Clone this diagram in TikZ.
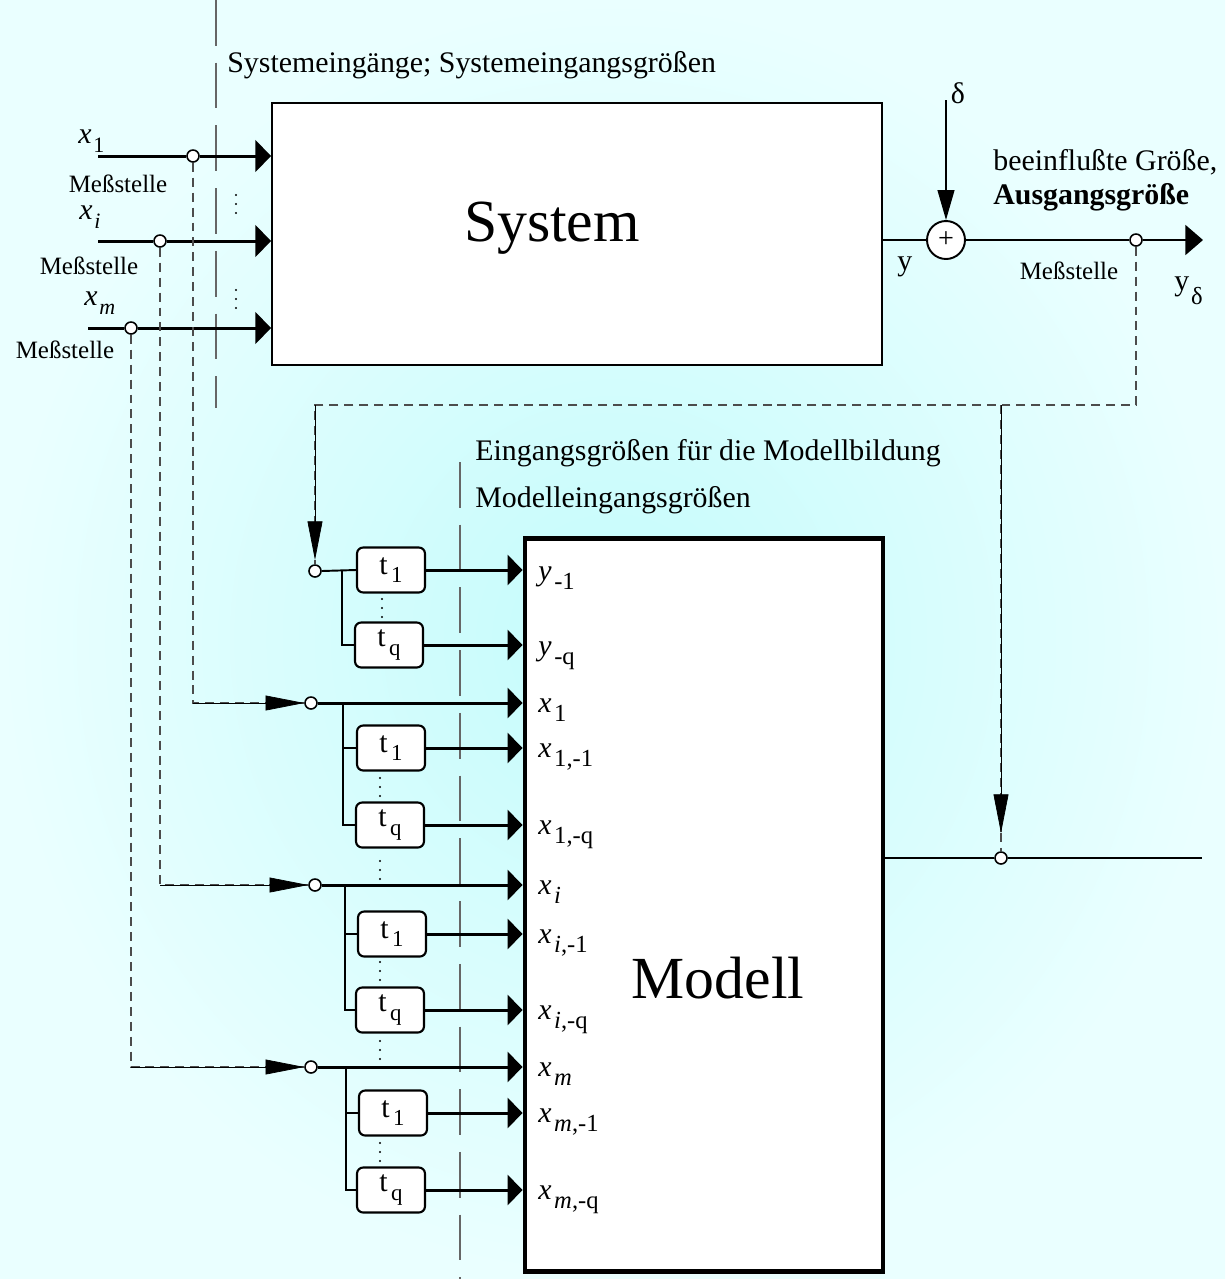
\documentclass[tikz,border=0pt]{standalone}
\usepackage{fontspec}
\setmainfont{Liberation Serif}
\usetikzlibrary{arrows.meta,shapes.geometric}
\definecolor{bgin}{RGB}{196,251,251}
\definecolor{bgout}{RGB}{234,255,255}
\newcommand\lbl[2]{#1\kern1pt\raisebox{-5.5pt}{\fontsize{12.5}{13}\selectfont #2}}
\newcommand\mlbl[2]{#1\kern1.5pt\raisebox{-5.5pt}{\fontsize{14}{14}\selectfont #2}}
\newcommand\tl[1]{t\kern2pt\raisebox{-5pt}{\fontsize{13}{13}\selectfont #1}}
\newcommand\mainfs{\fontsize{17}{20}\selectfont}
\begin{document}
\begin{tikzpicture}[x=0.02cm,y=-0.02cm,
  every node/.style={font=\mainfs, inner sep=0pt},
  meas/.style={circle, draw, fill=white, line width=0.9pt, minimum size=0.24cm, inner sep=0pt},
  sumnode/.style={circle, draw, fill=white, line width=1.1pt, minimum size=0.76cm, font=\fontsize{16}{16}\selectfont},
  sysbox/.style={draw, fill=white, line width=1.1pt},
  modbox/.style={draw, fill=white, line width=2.8pt},
  dbox/.style={draw, fill=white, rounded corners=3.5pt, minimum width=1.36cm, minimum height=0.9cm, line width=1.2pt},
  sig/.style={line width=1.7pt},
  br/.style={line width=1.1pt},
  dsh/.style={draw=black!70, line width=0.8pt, dash pattern=on 5.1pt off 3.4pt},
  dashdot/.style={draw=black!60, line width=0.7pt, dash pattern=on 26pt off 9.7pt},
  dots/.style={line width=1.3pt, line cap=round, dash pattern=on 0pt off 5.1pt},
  inarr/.style={-{Triangle[length=9pt,width=18pt]}},
  marr/.style={-{Triangle[length=8.5pt,width=17pt]}},
  darr/.style={-{Triangle[length=22pt,width=8.5pt,color=black]}},
  delarr/.style={-{Triangle[length=17pt,width=9.5pt]}},
  outarr/.style={-{Triangle[length=10pt,width=17pt]}},
  meslbl/.style={font=\fontsize{14.2}{16}\selectfont},
  big/.style={font=\fontsize{34}{36}\selectfont}
]
\useasboundingbox (0,0) rectangle (1225,1279);
\shade[inner color=bgin, outer color=bgout] (0,0) rectangle (1225,1279);

% separator lines
\coordinate (sepAt) at (216,0);
\coordinate (sepAb) at (216,408);
\draw[dashdot] (sepAt) -- (sepAb);
\coordinate (sepBt) at (460,462);
\coordinate (sepBb) at (460,1279);
\draw[dashdot] (sepBt) -- (sepBb);

\node[anchor=base west] (ttop) at (227,72) {Systemeingänge; Systemeingangsgrößen};
\node[anchor=base west] (tmod1) at (475,460) {Eingangsgrößen für die Modellbildung};
\node[anchor=base west] (tmod2) at (475,507) {Modelleingangsgrößen};

% System
\node[sysbox, minimum width=12.2cm, minimum height=5.24cm] (sys) at (577,234) {};
\node[big] (systxt) at (552,228) {System};

% inputs
\coordinate (in1) at (98,156);
\coordinate (ini) at (98,241);
\coordinate (inm) at (88,328);
\node[meas] (m1) at (193,156) {};
\node[meas] (mi) at (160,241) {};
\node[meas] (mm) at (131,328) {};
\draw[sig] (in1) -- (m1.west);
\draw[sig,inarr] (m1.east) -- (m1 -| sys.west);
\draw[sig] (ini) -- (mi.west);
\draw[sig,inarr] (mi.east) -- (mi -| sys.west);
\draw[sig] (inm) -- (mm.west);
\draw[sig,inarr] (mm.east) -- (mm -| sys.west);
\node[anchor=base west] (lx1) at (78,143) {\lbl{\textit{x}}{1}};
\node[anchor=base west] (lxi) at (79,219) {\lbl{\textit{x}}{\textit{i}}};
\node[anchor=base west] (lxm) at (84,305) {\lbl{\textit{x}}{\textit{m}}};
\node[meslbl] (ms1) at (118,184) {Meßstelle};
\node[meslbl] (ms2) at (89,266) {Meßstelle};
\node[meslbl] (ms3) at (65,350) {Meßstelle};
\coordinate (sd1a) at (236,195);
\coordinate (sd1b) at (236,216);
\draw[dots] (sd1a) -- (sd1b);
\coordinate (sd2a) at (236,290);
\coordinate (sd2b) at (236,311);
\draw[dots] (sd2a) -- (sd2b);

% output side
\node[sumnode] (sum) at (946,240) {+};
\coordinate (dtop) at (946,100);
\draw[br,delarr] (dtop) -- (sum.north);
\node (ldelta) at (958,93) {δ};
\draw[br] (sys.east |- sum) -- (sum.west);
\node[meas] (mo) at (1136,240) {};
\coordinate (yout) at (1203,240);
\draw[br] (sum.east) -- (mo.west);
\draw[br,outarr] (mo.east) -- (yout);
\node[anchor=base west] (ly) at (897,270) {y};
\node[meslbl] (ms4) at (1069,271) {Meßstelle};
\node[anchor=base west] (lyd) at (1174,290) {y\kern1pt\raisebox{-8pt}{\fontsize{14}{14}\selectfont δ}};
\node[anchor=base west] (lb1) at (993,170) {beeinflußte Größe,};
\node[anchor=base west] (lb2) at (993,204) {\textbf{Ausgangsgröße}};

% Modell
\node[modbox, minimum width=7.16cm, minimum height=14.68cm] (mod) at (704,905) {};
\node[big] (modtxt) at (718,978) {Modell};

% feedback dashed lines
\coordinate (yr) at (1136,405);
\coordinate (yl) at (315,405);
\coordinate (yj) at (1001,405);
\node[meas] (ys) at (315,571) {};
\node[meas] (mout) at (1001,858) {};
\coordinate (mtip) at (1001,833);
\coordinate (ytip) at (315,560);
\draw[dsh] (mo.south) -- (yr) -- (yl) -- (ytip);
\draw[darr] (yl) -- (ytip);
\draw[dsh] (ytip) -- (ys.north);
\draw[dsh] (yj) -- (mtip);
\draw[darr] (yj) -- (mtip);
\draw[dsh] (mtip) -- (mout.north);
\coordinate (modout) at (1202,858);
\draw[br] (mod.east |- mout) -- (mout.west);
\draw[br] (mout.east) -- (modout);

% y group
\node[dbox] (yb1) at (391,570) {\tl{1}};
\node[dbox] (ybq) at (389,645) {\tl{q}};
\coordinate (ybr) at (342,570);
\draw[br] (ys.east) -- (yb1.west);
\draw[br] (ybr) |- (ybq.west);
\draw[sig,marr] (yb1.east) -- (yb1.east -| mod.west);
\draw[sig,marr] (ybq.east) -- (ybq.east -| mod.west);
\coordinate (yda) at (382,599);
\coordinate (ydb) at (382,620);
\draw[dots] (yda) -- (ydb);

% x groups: circle, branch, boxes
\node[meas] (cx1) at (311,703) {};
\node[meas] (cxi) at (315,885) {};
\node[meas] (cxm) at (311,1067) {};
\draw[dsh] (m1.south) |- (cx1.west);
\draw[darr] (m1.south |- cx1) -- (cx1.west);
\draw[dsh] (mi.south) |- (cxi.west);
\draw[darr] (mi.south |- cxi) -- (cxi.west);
\draw[dsh] (mm.south) |- (cxm.west);
\draw[darr] (mm.south |- cxm) -- (cxm.west);

\draw[sig,marr] (cx1.east) -- (cx1 -| mod.west);
\draw[sig,marr] (cxi.east) -- (cxi -| mod.west);
\draw[sig,marr] (cxm.east) -- (cxm -| mod.west);

\node[dbox] (x1b1) at (391,748) {\tl{1}};
\node[dbox] (x1bq) at (390,825) {\tl{q}};
\node[dbox] (xib1) at (392,934) {\tl{1}};
\node[dbox] (xibq) at (390,1010) {\tl{q}};
\node[dbox] (xmb1) at (393,1113) {\tl{1}};
\node[dbox] (xmbq) at (391,1190) {\tl{q}};

\coordinate (bx1) at (343,703);
\coordinate (bxi) at (345,885);
\coordinate (bxm) at (346,1067);
\draw[br] (bx1) |- (x1bq.west);
\draw[br] (bx1 |- x1b1) -- (x1b1.west);
\draw[br] (bxi) |- (xibq.west);
\draw[br] (bxi |- xib1) -- (xib1.west);
\draw[br] (bxm) |- (xmbq.west);
\draw[br] (bxm |- xmb1) -- (xmb1.west);

\foreach \b in {x1b1,x1bq,xib1,xibq,xmb1,xmbq}
  \draw[sig,marr] (\b.east) -- (\b.east -| mod.west);

\coordinate (d1a) at (380,778); \coordinate (d1b) at (380,799);
\coordinate (d2a) at (380,861); \coordinate (d2b) at (380,882);
\coordinate (d3a) at (380,962); \coordinate (d3b) at (380,983);
\coordinate (d4a) at (380,1041); \coordinate (d4b) at (380,1062);
\coordinate (d5a) at (380,1143); \coordinate (d5b) at (380,1164);
\foreach \p in {1,2,3,4,5}
  \draw[dots] (d\p a) -- (d\p b);

% Modell labels
\node[anchor=base west] (l1) at (538,580) {\mlbl{\textit{y}}{-1}};
\node[anchor=base west] (l2) at (538,655) {\mlbl{\textit{y}}{-q}};
\node[anchor=base west] (l3) at (538,712) {\mlbl{\textit{x}}{1}};
\node[anchor=base west] (l4) at (538,757) {\mlbl{\textit{x}}{1,-1}};
\node[anchor=base west] (l5) at (538,834) {\mlbl{\textit{x}}{1,-q}};
\node[anchor=base west] (l6) at (538,894) {\mlbl{\textit{x}}{\textit{i}}};
\node[anchor=base west] (l7) at (538,943) {\mlbl{\textit{x}}{\textit{i},-1}};
\node[anchor=base west] (l8) at (538,1019) {\mlbl{\textit{x}}{\textit{i},-q}};
\node[anchor=base west] (l9) at (538,1076) {\mlbl{\textit{x}}{\textit{m}}};
\node[anchor=base west] (l10) at (538,1122) {\mlbl{\textit{x}}{\textit{m},-1}};
\node[anchor=base west] (l11) at (538,1199) {\mlbl{\textit{x}}{\textit{m},-q}};
\end{tikzpicture}
\end{document}
